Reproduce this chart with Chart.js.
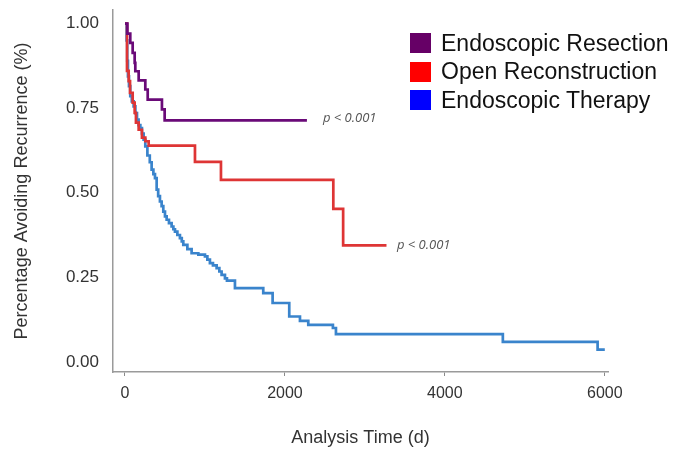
<!DOCTYPE html>
<html>
<head>
  <title>Recurrence by Treatment</title>
  <script src="https://cdn.jsdelivr.net/npm/chart.js"></script>
  <style>
    body {
      margin: 0;
      background-color: #ffffff;
    }
    .chart-container {
      position: relative;
      width: 675px;
      height: 450px;
    }
    .legend {
      position: absolute;
      left: 410px;
      top: 29px;
      font-family: "Liberation Sans", Arial, sans-serif;
      font-size: 23px;
      color: #111;
    }
    .legend-row {
      display: flex;
      align-items: center;
      height: 28.5px;
      white-space: nowrap;
    }
    .legend-box {
      width: 21px;
      height: 20px;
      margin-right: 10px;
    }
  </style>
</head>
<body>
  <div class="chart-container">
    <canvas id="kmChart" width="675" height="450"></canvas>
    <div class="legend" id="legend"></div>
  </div>

  <script>
    const seriesNames = ['Endoscopic Resection', 'Open Reconstruction', 'Endoscopic Therapy'];
    const legendColors = ['#660066', '#ff0000', '#0000ff'];
    const lineColors = ['#6a0a78', '#de3535', '#3a84cc'];

    // survival curves: time (days) where the level changes, and the level from then on
    const resectionTimes = [0, 30, 66, 96, 121, 129, 171, 254, 284, 462, 496, 2275];
    const resectionValues = [1.0, 0.97, 0.943, 0.913, 0.884, 0.859, 0.832, 0.805, 0.775, 0.746, 0.714, 0.714];

    const reconstructionTimes = [0, 25, 46, 63, 96, 121, 137, 171, 212, 254, 296, 875, 1200, 2605, 2728, 3270];
    const reconstructionValues = [1.0, 0.86, 0.83, 0.795, 0.766, 0.736, 0.707, 0.686, 0.663, 0.652, 0.639, 0.591, 0.538, 0.452, 0.344, 0.344];

    const therapyTimes = [0, 20, 28, 37, 50, 66, 85, 108, 130, 150, 170, 192, 212, 233, 254, 280, 310, 333, 355, 375, 396, 415, 437, 458, 479, 500, 521, 550, 583, 605, 625, 655, 687, 710, 729, 780, 833, 917, 1000, 1030, 1062, 1100, 1146, 1180, 1208, 1250, 1275, 1375, 1729, 1846, 2054, 2188, 2292, 2600, 2638, 4725, 5910, 6000];
    const therapyValues = [1.0, 0.95, 0.89, 0.844, 0.815, 0.785, 0.77, 0.755, 0.735, 0.716, 0.70, 0.691, 0.675, 0.657, 0.637, 0.61, 0.59, 0.568, 0.555, 0.543, 0.509, 0.49, 0.474, 0.46, 0.444, 0.43, 0.42, 0.41, 0.40, 0.392, 0.385, 0.375, 0.366, 0.356, 0.346, 0.333, 0.321, 0.317, 0.312, 0.302, 0.292, 0.285, 0.277, 0.267, 0.257, 0.247, 0.240, 0.218, 0.203, 0.174, 0.134, 0.121, 0.109, 0.100, 0.082, 0.059, 0.036, 0.036];

    const xTicks = [0, 2000, 4000, 6000];
    const yTicks = [0, 0.25, 0.5, 0.75, 1.0];

    // p-value notes next to the curve ends
    const pLabelText = 'p < 0.001';
    const pLabelX = [2475, 3400];
    const pLabelY = [0.72, 0.345];

    const toPoints = (times, values) => times.map((t, i) => ({ x: t, y: values[i] }));
    const curves = [
      toPoints(resectionTimes, resectionValues),
      toPoints(reconstructionTimes, reconstructionValues),
      toPoints(therapyTimes, therapyValues),
    ];

    // legend as html
    const legendEl = document.getElementById('legend');
    seriesNames.forEach((name, i) => {
      const row = document.createElement('div');
      row.className = 'legend-row';
      row.innerHTML = '<div class="legend-box" style="background:' + legendColors[i] + '"></div><span>' + name + '</span>';
      legendEl.appendChild(row);
    });

    const pLabels = {
      id: 'pLabels',
      afterDatasetsDraw(chart) {
        const { ctx, scales: { x, y } } = chart;
        ctx.save();
        ctx.font = 'italic 13px "Open Sans", sans-serif';
        ctx.fillStyle = '#555555';
        ctx.textBaseline = 'middle';
        pLabelX.forEach((v, i) => {
          ctx.fillText(pLabelText, x.getPixelForValue(v), y.getPixelForValue(pLabelY[i]));
        });
        ctx.restore();
      }
    };

    const ctx = document.getElementById('kmChart').getContext('2d');
    const chart = new Chart(ctx, {
      type: 'line',
      data: {
        datasets: curves.map((pts, i) => ({
          label: seriesNames[i],
          data: pts,
          borderColor: lineColors[i],
          backgroundColor: legendColors[i],
          borderWidth: 2.7,
          pointRadius: 0,
          stepped: 'before',
          fill: false,
        })),
      },
      options: {
        responsive: false,
        animation: false,
        layout: {
          padding: { top: 10, right: 67, left: 0, bottom: 0 },
        },
        plugins: {
          legend: { display: false },
          tooltip: { enabled: false },
        },
        scales: {
          x: {
            type: 'linear',
            min: -150,
            max: 6040,
            afterBuildTicks: (axis) => { axis.ticks = xTicks.map(v => ({ value: v })); },
            afterFit: (axis) => {
              axis.height = 78;
              axis.paddingLeft = 0;
              axis.paddingRight = 0;
            },
            grid: { drawOnChartArea: false, drawTicks: true, tickLength: 4, color: '#8a8a8a' },
            border: { color: '#9a9a9a', width: 1.5 },
            ticks: {
              padding: 8,
              color: '#333333',
              font: { family: '"Liberation Sans", Arial, sans-serif', size: 16 },
              callback: (v) => String(v),
            },
            title: {
              display: true,
              text: 'Analysis Time (d)',
              color: '#333333',
              font: { family: '"Liberation Sans", Arial, sans-serif', size: 18 },
              padding: { top: 0, bottom: 1 },
            },
          },
          y: {
            min: -0.03,
            max: 1.04,
            afterBuildTicks: (axis) => { axis.ticks = yTicks.map(v => ({ value: v })); },
            afterFit: (axis) => {
              axis.width = 113;
              axis.paddingTop = 0;
              axis.paddingBottom = 0;
            },
            grid: { display: false },
            border: { color: '#9a9a9a', width: 1.5 },
            ticks: {
              padding: 6,
              color: '#333333',
              font: { family: '"Liberation Sans", Arial, sans-serif', size: 17 },
              callback: (v) => Number(v).toFixed(2),
            },
            title: {
              display: true,
              text: 'Percentage Avoiding Recurrence (%)',
              color: '#333333',
              font: { family: '"Liberation Sans", Arial, sans-serif', size: 18 },
              padding: { top: 11, bottom: 0 },
            },
          },
        },
      },
      plugins: [pLabels],
    });
  </script>
</body>
</html>
